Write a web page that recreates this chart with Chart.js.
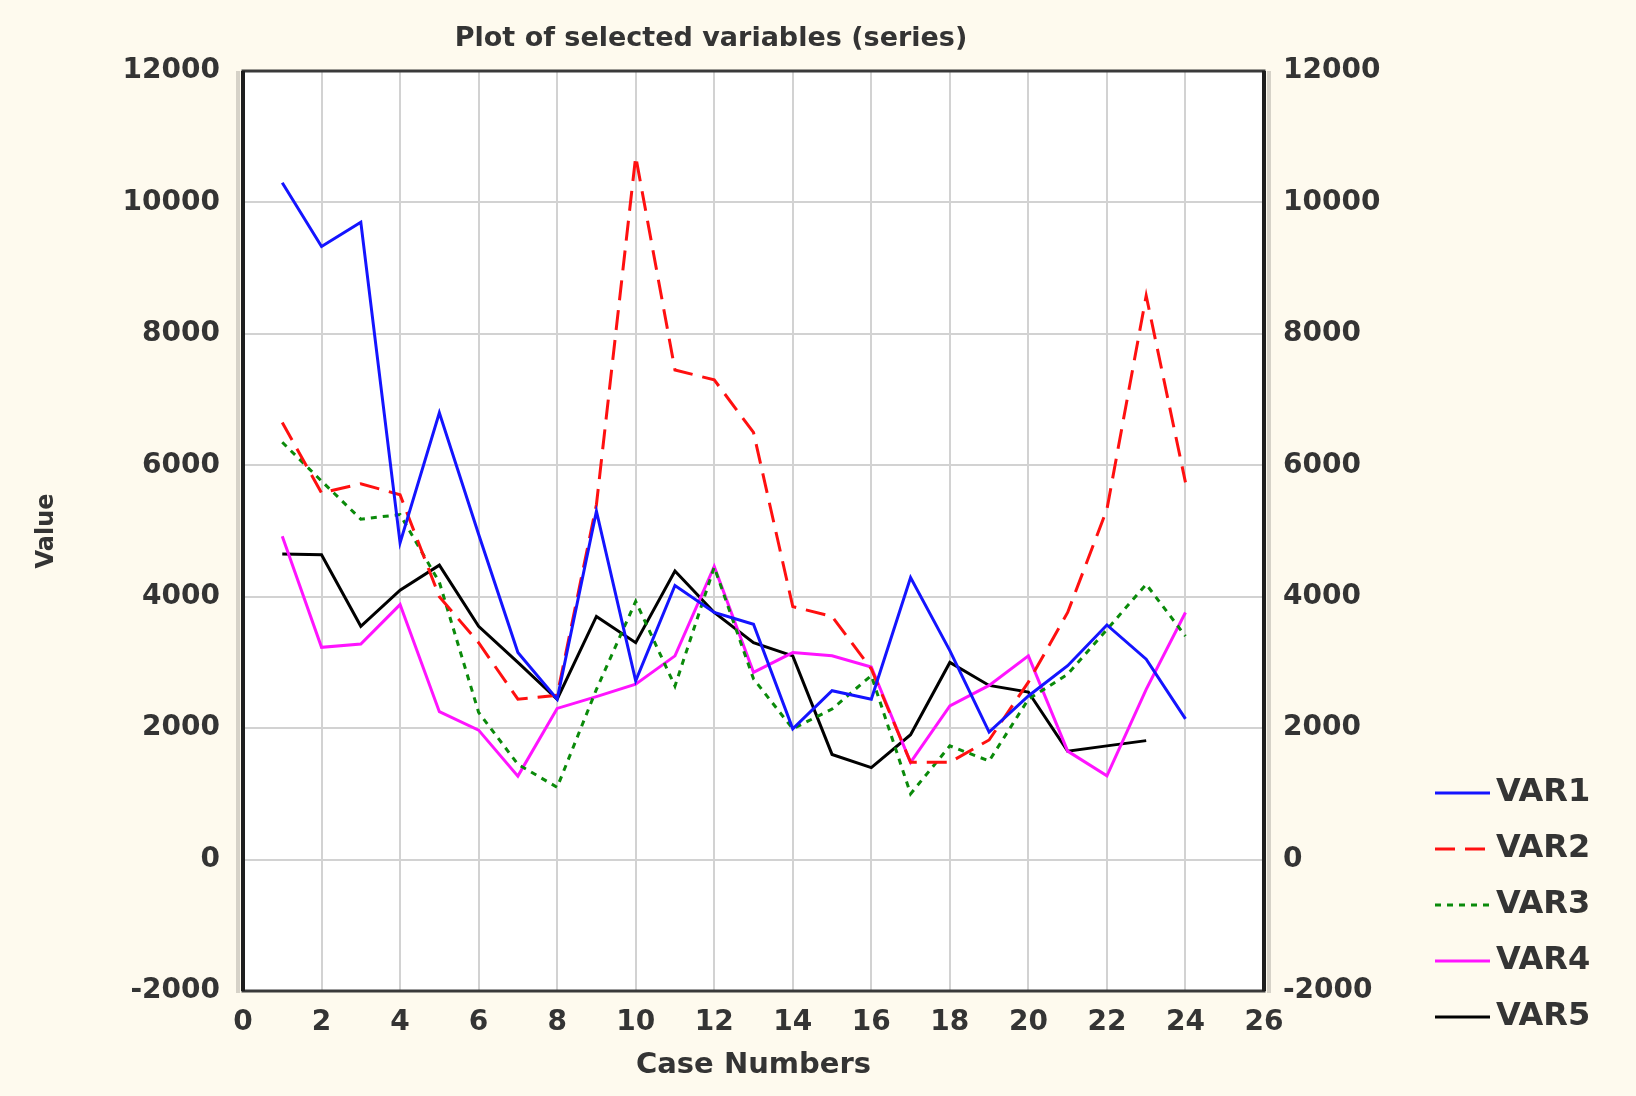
<!DOCTYPE html>
<html>
<head>
<meta charset="utf-8">
<script src="https://cdn.jsdelivr.net/npm/chart.js@4.4.1/dist/chart.umd.min.js"></script>
<style>
html, body { margin: 0; padding: 0; background: #fefaee; }
</style>
</head>
<body>
<canvas id="graficoSeries" width="1636" height="1096"></canvas>
<script>
var caseNumbers = [1,2,3,4,5,6,7,8,9,10,11,12,13,14,15,16,17,18,19,20,21,22,23,24];
var var1 = [10300,9330,9700,4820,6800,4950,3150,2440,5300,2720,4170,3760,3580,1990,2570,2440,4290,3180,1940,2490,2950,3570,3050,2140];
var var2 = [6650,5580,5720,5550,4000,3300,2440,2500,5400,10700,7450,7300,6500,3850,3700,2900,1480,1480,1820,2700,3760,5330,8580,5740];
var var3 = [6350,5760,5180,5250,4220,2240,1450,1100,2590,3930,2640,4450,2750,1990,2290,2800,1000,1730,1500,2440,2820,3500,4190,3400];
var var4 = [4920,3230,3280,3880,2250,1970,1270,2300,2480,2670,3100,4460,2850,3150,3100,2930,1480,2340,2650,3100,1650,1275,2590,3760];
var var5 = [4650,4640,3550,4100,4480,3550,3000,2440,3700,3300,4390,3760,3300,3100,1600,1400,1900,3000,2650,2550,1650,1730,1810,null];
var seriesNames = ['VAR1','VAR2','VAR3','VAR4','VAR5'];
var yTicks = [-2000,0,2000,4000,6000,8000,10000,12000];

var fonte = '"DejaVu Sans"';
var corTexto = '#343434';

function serie(valores) {
    return valores.map(function (v, i) { return { x: caseNumbers[i], y: v }; });
}

// fundo creme, area branca, moldura, titulo e legenda
var moldura = {
    id: 'moldura',
    beforeDraw: function (chart) {
        var c = chart.ctx, a = chart.chartArea;
        c.save();
        c.fillStyle = '#fefaee';
        c.fillRect(0, 0, chart.width, chart.height);
        c.fillStyle = '#ffffff';
        c.fillRect(a.left, a.top, a.right - a.left, a.bottom - a.top);
        c.restore();
    },
    afterDraw: function (chart) {
        var c = chart.ctx, a = chart.chartArea;
        c.save();
        c.strokeStyle = '#d6d2c8';
        c.lineWidth = 4;
        c.beginPath();
        c.moveTo(a.left - 5, a.top);
        c.lineTo(a.left - 5, a.bottom + 2);
        c.moveTo(a.right + 5, a.top);
        c.lineTo(a.right + 5, a.bottom + 2);
        c.stroke();
        c.strokeStyle = '#3a3a3a';
        c.lineWidth = 3;
        c.strokeRect(a.left, a.top, a.right - a.left, a.bottom - a.top);
        c.strokeStyle = '#1e1e1e';
        c.lineWidth = 4;
        c.beginPath();
        c.moveTo(a.left, a.top);
        c.lineTo(a.left, a.bottom);
        c.moveTo(a.right, a.top);
        c.lineTo(a.right, a.bottom);
        c.stroke();

        c.fillStyle = corTexto;
        c.font = 'bold 27px ' + fonte;
        c.textAlign = 'center';
        c.textBaseline = 'middle';
        c.fillText('Plot of selected variables (series)', 711, 39);

        // legenda
        c.font = 'bold 32px ' + fonte;
        c.textAlign = 'left';
        chart.data.datasets.forEach(function (ds, i) {
            var y = 793 + i * 56;
            c.strokeStyle = ds.borderColor;
            c.lineWidth = ds.borderWidth;
            c.setLineDash(ds.borderDash || []);
            c.beginPath();
            c.moveTo(1435, y);
            c.lineTo(1490, y);
            c.stroke();
            c.setLineDash([]);
            c.fillStyle = corTexto;
            c.fillText(ds.label, 1496, y);
        });
        c.restore();
    }
};

var estiloTicks = { family: fonte, size: 28, weight: 'bold' };

var ctx = document.getElementById('graficoSeries').getContext('2d');
var graficoSeries = new Chart(ctx, {
    type: 'line',
    data: {
        datasets: [{
            label: seriesNames[0],
            data: serie(var1),
            borderColor: '#1414ff',
            borderWidth: 3
        }, {
            label: seriesNames[1],
            data: serie(var2),
            borderColor: '#ff1010',
            borderWidth: 3,
            borderDash: [20, 10]
        }, {
            label: seriesNames[2],
            data: serie(var3),
            borderColor: '#0a8a0a',
            borderWidth: 3,
            borderDash: [6, 6]
        }, {
            label: seriesNames[3],
            data: serie(var4),
            borderColor: '#ff14ff',
            borderWidth: 3
        }, {
            label: seriesNames[4],
            data: serie(var5),
            borderColor: '#000000',
            borderWidth: 3
        }]
    },
    options: {
        responsive: false,
        animation: false,
        layout: {
            padding: { left: 20, right: 242, top: 71, bottom: 0 }
        },
        elements: {
            point: { radius: 0 },
            line: { tension: 0, fill: false }
        },
        scales: {
            x: {
                type: 'linear',
                min: 0,
                max: 26,
                ticks: { stepSize: 2, padding: 15, color: corTexto, font: estiloTicks },
                grid: { color: '#d2d2d2', lineWidth: 2, drawTicks: false },
                border: { display: false },
                title: {
                    display: true,
                    text: 'Case Numbers',
                    color: corTexto,
                    padding: { top: 0, bottom: 13 },
                    font: { family: fonte, size: 29, weight: 'bold' }
                },
                afterFit: function (s) { s.height = 105; }
            },
            y: {
                min: yTicks[0],
                max: yTicks[yTicks.length - 1],
                ticks: {
                    stepSize: 2000,
                    padding: 23,
                    color: corTexto,
                    font: estiloTicks,
                    callback: function (v) { return String(v); }
                },
                grid: { color: '#d2d2d2', lineWidth: 2, drawTicks: false },
                border: { display: false },
                title: {
                    display: true,
                    text: 'Value',
                    color: corTexto,
                    padding: { top: 12, bottom: 0 },
                    font: { family: fonte, size: 24, weight: 'bold' }
                },
                afterFit: function (s) { s.width = 223; }
            },
            y2: {
                position: 'right',
                min: yTicks[0],
                max: yTicks[yTicks.length - 1],
                ticks: {
                    stepSize: 2000,
                    padding: 19,
                    color: corTexto,
                    font: estiloTicks,
                    callback: function (v) { return String(v); }
                },
                grid: { display: false, drawTicks: false },
                border: { display: false },
                afterFit: function (s) { s.width = 130; }
            }
        },
        plugins: {
            legend: { display: false },
            tooltip: { enabled: false },
            title: { display: false }
        }
    },
    plugins: [moldura]
});
</script>
</body>
</html>
